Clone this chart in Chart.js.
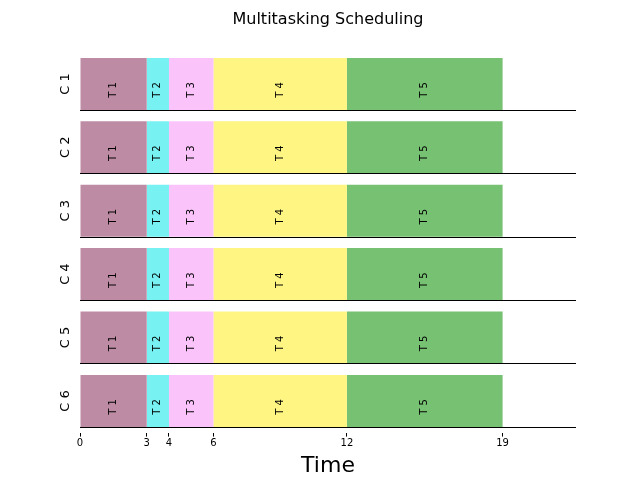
<!DOCTYPE html>
<html>
<head>
<script src="https://cdn.jsdelivr.net/npm/chart.js@4"></script>
<style>body{margin:0;background:#fff}#wrap{width:640px;height:480px}</style>
</head>
<body>
<div id="wrap"><canvas id="myChart"></canvas></div>
<script>
// rader og oppgaver
const cores = ['C 1', 'C 2', 'C 3', 'C 4', 'C 5', 'C 6'];
const tasks = ['T 1', 'T 2', 'T 3', 'T 4', 'T 5'];
const starts = [0, 3, 4, 6, 12];
const ends = [3, 4, 6, 12, 19];
const xTicks = [0, 3, 4, 6, 12, 19];
const colors = ['#bd8ca4', '#77f1f1', '#fac4fb', '#fef583', '#77c173'];

const datasets = tasks.map(function(t, i) {
  return {
    label: t,
    data: cores.map(function() { return [starts[i], ends[i]]; }),
    backgroundColor: colors[i],
    borderWidth: 0,
    grouped: false,
    barPercentage: 0.82,
    categoryPercentage: 1
  };
});

// tegner linjer, rad-navn og oppgave-tekst
const extras = {
  id: 'extras',
  afterDatasetsDraw(chart) {
    const c = chart.ctx;
    const area = chart.chartArea;
    const x = chart.scales.x;
    const meta0 = chart.getDatasetMeta(0);
    c.save();
    meta0.data.forEach(function(bar, r) {
      const bottom = bar.y + bar.height / 2;
      c.strokeStyle = '#000';
      c.lineWidth = 1;
      c.beginPath();
      c.moveTo(area.left, Math.round(bottom) + 0.5);
      c.lineTo(area.right, Math.round(bottom) + 0.5);
      c.stroke();
      // rad-navn
      c.fillStyle = '#000';
      c.font = '13px "DejaVu Sans"';
      c.textAlign = 'center';
      c.textBaseline = 'middle';
      c.save();
      c.translate(area.left - 14, bar.y);
      c.rotate(-Math.PI / 2);
      c.fillText(cores[r], 0, 0);
      c.restore();
      // oppgave-tekst
      c.font = '10px "DejaVu Sans"';
      tasks.forEach(function(t, i) {
        const cx = x.getPixelForValue((starts[i] + ends[i]) / 2);
        c.save();
        c.translate(cx, bar.y + 6);
        c.rotate(-Math.PI / 2);
        c.fillText(t, 0, 0);
        c.restore();
      });
    });
    c.restore();
  }
};

const myChart = new Chart(document.getElementById('myChart'), {
  type: 'bar',
  data: { labels: cores, datasets: datasets },
  plugins: [extras],
  options: {
    indexAxis: 'y',
    responsive: true,
    maintainAspectRatio: false,
    animation: false,
    layout: { padding: { left: 80, right: 64, top: 10, bottom: 1 } },
    plugins: {
      legend: { display: false },
      tooltip: { enabled: false },
      title: {
        display: true,
        text: 'Multitasking Scheduling',
        color: '#000',
        font: { family: 'DejaVu Sans', size: 16, weight: 'normal' },
        padding: { top: 0, bottom: 23 }
      }
    },
    scales: {
      y: { display: false },
      x: {
        type: 'linear',
        min: 0,
        max: 22.3,
        afterBuildTicks: function(axis) {
          axis.ticks = xTicks.map(function(v) { return { value: v }; });
        },
        grid: { drawOnChartArea: false, drawTicks: true, tickLength: 4, color: '#000' },
        border: { display: false },
        ticks: { color: '#000', font: { family: 'DejaVu Sans', size: 10 }, padding: 1, maxRotation: 0 },
        title: {
          display: true,
          text: 'Time',
          color: '#000',
          font: { family: 'DejaVu Sans', size: 22 },
          padding: { top: 2, bottom: 0 }
        }
      }
    }
  }
});
</script>
</body>
</html>
